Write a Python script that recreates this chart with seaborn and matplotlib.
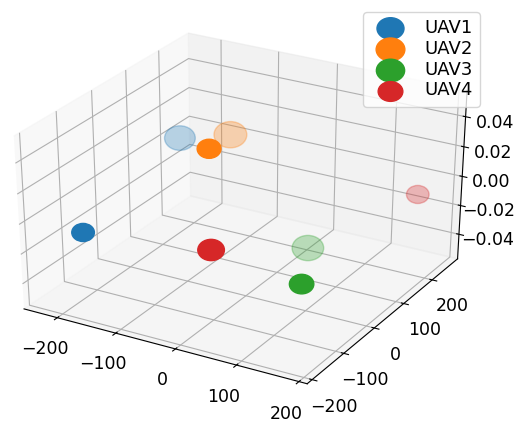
import matplotlib
matplotlib.use("Agg")
import matplotlib.pyplot as plt
from matplotlib.path import Path
from matplotlib.transforms import Affine2D
import seaborn as sns
import numpy as np

# ---- data ----
uav_names = ["UAV1", "UAV2", "UAV3", "UAV4"]
uav1_x = [-164, -225]
uav1_y = [-191, 203]
uav2_x = [-165, -165]
uav2_y = [188, 257]
uav3_x = [186, 137]
uav3_y = [-184, -69]
uav4_x = [23, 186]
uav4_y = [-148, 193]
uav_z = [0, 0]
marker_sizes = [[265, 490], [295, 560], [310, 518], [367, 265]]
xy_ticks = [-200, -100, 0, 100, 200]
x_range = (-257.97, 212.97)
y_range = (-215.30, 292.30)
z_range = (-0.0573, 0.0573)

colors = sns.color_palette("tab10", 4)
plt.rcParams['font.family'] = ['DejaVu Sans']

# the reference is stretched horizontally: use a slightly wide ellipse marker
ellipse = Path.unit_circle().transformed(Affine2D().scale(1.25, 1.0))

fig = plt.figure(figsize=(5.26, 4.23), dpi=100)
ax = fig.add_subplot(projection='3d')
W, H = 504, 408
cx, cy = 238, 205.5
ax.set_position([(cx - W / 2) / 526, (423 - cy - H / 2) / 423, W / 526, H / 423])
ax.apply_aspect = lambda position=None: None  # keep the (non-square) box

xs = [uav1_x, uav2_x, uav3_x, uav4_x]
ys = [uav1_y, uav2_y, uav3_y, uav4_y]
for name, x, y, s, c in zip(uav_names, xs, ys, marker_sizes, colors):
    ax.scatter(x, y, uav_z, s=s, color=c, label=name, depthshade=True,
               marker=ellipse)

ax.set_xlim(*x_range)
ax.set_ylim(*y_range)
ax.set_zlim(*z_range)
ax.set_xticks(xy_ticks)
ax.set_yticks(xy_ticks)
ax.tick_params(labelsize=12.5)
ax.xaxis.set_tick_params(pad=4.8)
ax.yaxis.set_tick_params(pad=4.5)
ax.legend(loc='upper right', bbox_to_anchor=(480 / 526, 1 - 12 / 423),
          bbox_transform=fig.transFigure, borderaxespad=0, fontsize=13,
          labelspacing=0.15, handlelength=2.2)

fig.savefig("out.png", dpi=100)
